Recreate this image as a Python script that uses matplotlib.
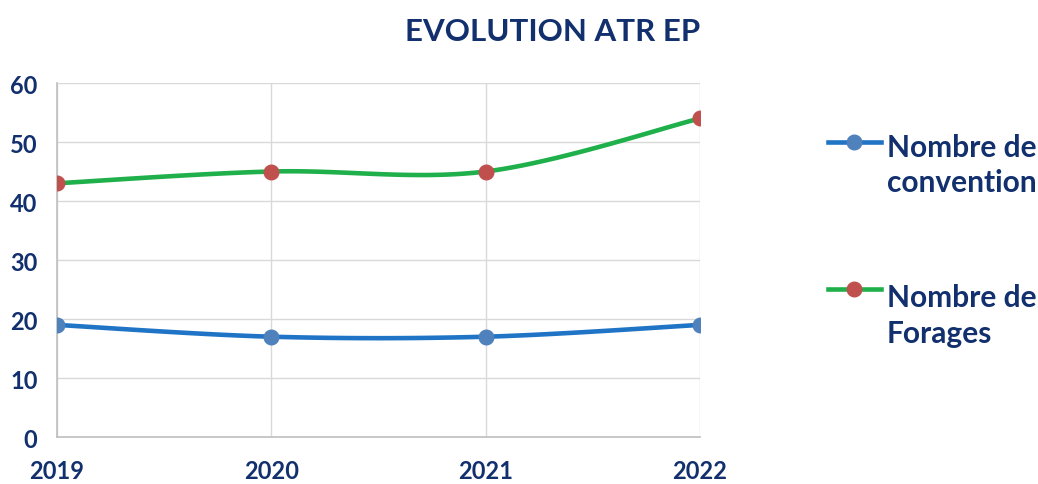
import matplotlib.pyplot as plt
from matplotlib.lines import Line2D
import numpy as np

# Données
annees = ["2019", "2020", "2021", "2022"]
nb_convention = [19, 17, 17, 19]
nb_forages = [43, 45, 45, 54]

navy = "#12306E"
plt.rcParams['font.family'] = ['Lato', 'DejaVu Sans']


def lisser(y, n=40):
    # courbe lissée type Excel (Bezier / Catmull-Rom)
    x = np.arange(len(y), dtype=float)
    y = np.asarray(y, dtype=float)
    pts = np.column_stack([x, y])
    ext = np.vstack([pts[0], pts, pts[-1]])
    out = []
    t = np.linspace(0, 1, n)[:, None]
    for i in range(len(pts) - 1):
        p0, p3 = ext[i + 1], ext[i + 2]
        c1 = p0 + (ext[i + 2] - ext[i]) / 6
        c2 = p3 - (ext[i + 3] - ext[i + 1]) / 6
        seg = ((1 - t) ** 3) * p0 + 3 * ((1 - t) ** 2) * t * c1 \
            + 3 * (1 - t) * t ** 2 * c2 + t ** 3 * p3
        out.append(seg)
    out = np.vstack(out)
    return out[:, 0], out[:, 1]


fig = plt.figure(figsize=(10.38, 4.85), dpi=100)
ax = fig.add_axes([0.0549, 0.0969, 0.6195, 0.7299])

x = np.arange(len(annees))
xs, ys = lisser(nb_convention)
ax.plot(xs, ys, color="#1F74C6", lw=3.3, zorder=3, solid_capstyle='round')
ax.plot(x, nb_convention, 'o', color="#4F81BD", ms=10.5, zorder=4)
xs, ys = lisser(nb_forages)
ax.plot(xs, ys, color="#1FB04B", lw=3.3, zorder=3, solid_capstyle='round')
ax.plot(x, nb_forages, 'o', color="#C0504D", ms=10.5, zorder=4)

ax.set_xlim(0, 3)
ax.set_ylim(0, 60)
ax.set_yticks(range(0, 61, 10))
ax.set_xticks(x)
ax.set_xticklabels(annees)
ax.grid(True, color="#D9D9D9", lw=1)
ax.set_axisbelow(True)
for s in ["top", "right"]:
    ax.spines[s].set_visible(False)
for s in ["left", "bottom"]:
    ax.spines[s].set_color("#BFBFBF")
    ax.spines[s].set_linewidth(1.2)
ax.tick_params(length=0, labelsize=17, labelcolor=navy)
ax.tick_params(axis='x', pad=16)
ax.tick_params(axis='y', pad=14)
for lab in ax.get_xticklabels() + ax.get_yticklabels():
    lab.set_fontweight('bold')

fig.text(0.532, 0.935, "EVOLUTION ATR EP", ha='center', va='center',
         fontsize=22.5, fontweight='bold', color=navy)

# Légende
entrees = [(("Nombre de", "convention"), "#1F74C6", "#4F81BD", 143, (157, 192)),
           (("Nombre de", "Forages"), "#1FB04B", "#C0504D", 290, (307, 343))]
for lignes, lc, mc, ypx, bases in entrees:
    yf = 1 - ypx / 485
    fig.add_artist(Line2D([828 / 1038, 881 / 1038], [yf, yf], color=lc, lw=3.3,
                          transform=fig.transFigure))
    fig.add_artist(Line2D([854 / 1038], [yf], marker='o', color=mc, ms=10.5,
                          transform=fig.transFigure))
    for txt, b in zip(lignes, bases):
        fig.text(887 / 1038, 1 - b / 485, txt, ha='left', va='baseline',
                 fontsize=21.5, fontweight='bold', color=navy)

fig.savefig("out.png")
